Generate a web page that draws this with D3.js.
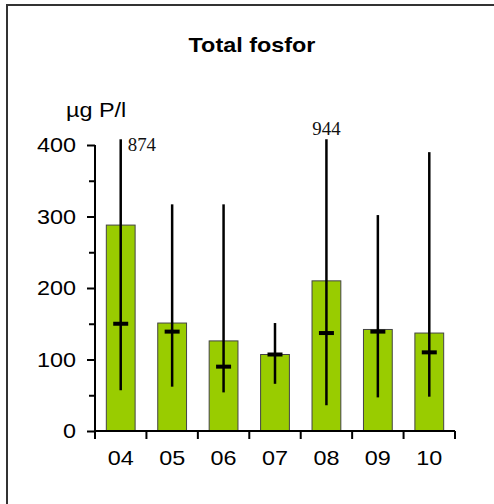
<!DOCTYPE html>
<html>
<head>
<meta charset="utf-8">
<script src="https://cdn.jsdelivr.net/npm/d3@7"></script>
<style>
	body { margin: 0; background: #fff; }
	text { font-family: "Liberation Sans", Arial, sans-serif; }
	text.note { font-family: "Liberation Serif", "Times New Roman", serif; }
</style>
</head>
<body>
<div id="chart"></div>
<script>
'use strict';

// data
const years = ["04", "05", "06", "07", "08", "09", "10"];
const means = [288, 151, 126, 107, 210, 142, 137];
const medians = [150, 139, 90, 107, 137, 139, 110];
const mins = [57, 62, 54, 66, 36, 47, 48];
const maxs = [874, 317, 317, 151, 944, 302, 390];
const yTicks = [0, 100, 200, 300, 400];
const yMinorTicks = [50, 150, 250, 350];

const width = 494, height = 504;
const stretch = 1.17; // text in the picture is a bit wider than tall
const yCap = 408;     // whiskers beyond this are cut off and labelled

const svg = d3.select("#chart")
	.append("svg")
		.attr("width", width)
		.attr("height", height);

// frame
svg.append("path")
	.attr("d", "M7,520 V5 H520")
	.attr("fill", "none")
	.attr("stroke", "#333")
	.attr("stroke-width", 2);

const x = d3.scaleBand()
	.domain(years)
	.range([95, 455])
	.padding(0);

const y = d3.scaleLinear()
	.domain([0, 400])
	.range([431, 145]);

function label(g, px, py, txt, anchor) {
	return g.append("text")
		.attr("transform", `translate(${px},${py}) scale(${stretch},1)`)
		.attr("text-anchor", anchor || "middle")
		.attr("font-size", 20)
		.attr("fill", "#000")
		.text(txt);
}

// title and unit
label(svg, 252, 52, "Total fosfor").attr("font-weight", "bold");
label(svg, 66, 117, "µg P/l", "start");

// bars
const barW = x.bandwidth() * 0.56;
const cx = (d) => x(d) + x.bandwidth() / 2;

svg.append("g")
	.selectAll("rect")
	.data(years)
	.join("rect")
		.attr("x", d => cx(d) - barW / 2)
		.attr("y", (d, i) => y(means[i]))
		.attr("width", barW)
		.attr("height", (d, i) => y(0) - y(means[i]))
		.attr("fill", "#99cc00")
		.attr("stroke", "#444")
		.attr("stroke-width", 1);

// whiskers min..max
svg.append("g")
	.selectAll("line")
	.data(years)
	.join("line")
		.attr("x1", cx)
		.attr("x2", cx)
		.attr("y1", (d, i) => y(mins[i]))
		.attr("y2", (d, i) => y(Math.min(maxs[i], yCap)))
		.attr("stroke", "#000")
		.attr("stroke-width", 2.5);

// median marks
svg.append("g")
	.selectAll("line")
	.data(years)
	.join("line")
		.attr("x1", d => cx(d) - 7.5)
		.attr("x2", d => cx(d) + 7.5)
		.attr("y1", (d, i) => y(medians[i]))
		.attr("y2", (d, i) => y(medians[i]))
		.attr("stroke", "#000")
		.attr("stroke-width", 4);

// labels for whiskers that run off the scale
years.forEach((d, i) => {
	if (maxs[i] <= yCap) return;
	const first = i === 0;
	svg.append("text")
		.attr("class", "note")
		.attr("transform", first
			? `translate(${cx(d) + 7},${y(yCap) + 12}) scale(1.05,1)`
			: `translate(${cx(d)},${y(yCap) - 4}) scale(1.05,1)`)
		.attr("text-anchor", first ? "start" : "middle")
		.attr("font-size", 18)
		.attr("fill", "#111")
		.text(maxs[i]);
});

// y axis
const yAxis = svg.append("g")
	.attr("transform", "translate(95,0)")
	.call(d3.axisLeft(y).tickValues(yTicks).tickSize(8).tickPadding(0).tickFormat(""));
yAxis.select(".domain").attr("d", `M0,${y(400)}V${y(0)}`);
yAxis.selectAll(".tick line").attr("stroke-width", 2);
yAxis.select(".domain").attr("stroke-width", 2);

svg.append("g")
	.attr("transform", "translate(95,0)")
	.call(d3.axisLeft(y).tickValues(yMinorTicks).tickSize(6).tickFormat(""))
	.call(g => g.select(".domain").remove())
	.selectAll(".tick line").attr("stroke-width", 2);

yTicks.forEach(t => {
	label(svg, 76, y(t) + 7, t, "end");
});

// x axis
const xAxis = svg.append("g")
	.attr("transform", `translate(0,${y(0)})`)
	.call(d3.axisBottom(x).tickSize(0).tickFormat(""));
xAxis.select(".domain").attr("d", "M95,0H455").attr("stroke-width", 2);

xAxis.selectAll("line.sep")
	.data(d3.range(years.length + 1))
	.join("line")
		.attr("class", "sep")
		.attr("x1", i => 95 + i * x.step())
		.attr("x2", i => 95 + i * x.step())
		.attr("y1", 0)
		.attr("y2", 8)
		.attr("stroke", "#000")
		.attr("stroke-width", 2);

years.forEach(d => {
	label(svg, cx(d), 465, d);
});
</script>
</body>
</html>
